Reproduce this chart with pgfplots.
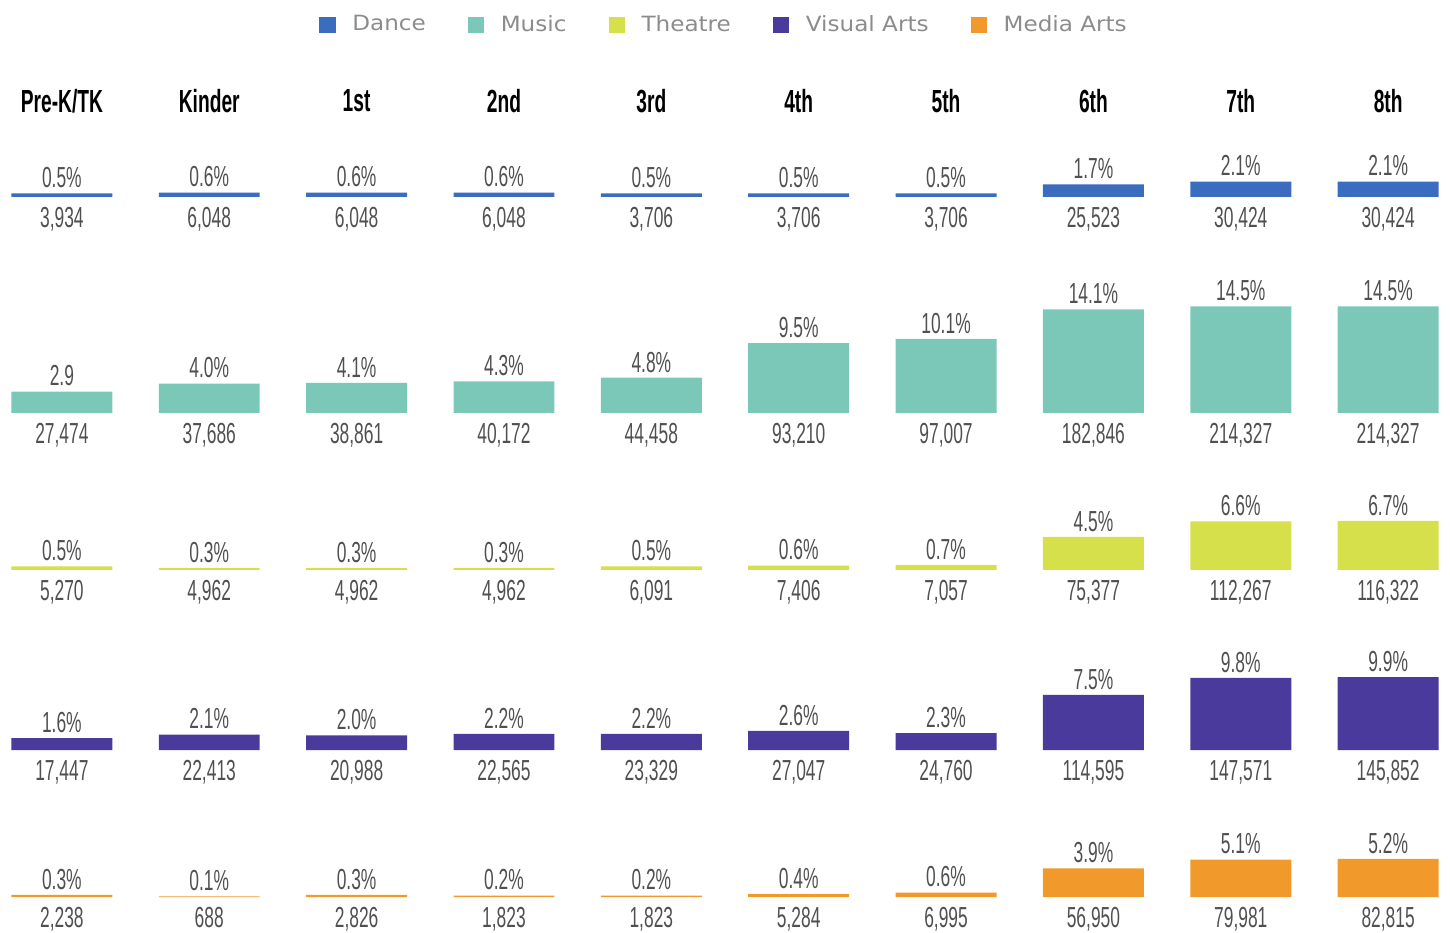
\documentclass[border=0pt]{standalone}
\usepackage{pgfplots}
\pgfplotsset{compat=1.18}
\usepackage{fontspec}
\setmainfont{Liberation Sans}
\newfontfamily\cond[FakeStretch=0.6]{Liberation Sans}
\newfontfamily\condb[FakeStretch=0.6]{Liberation Sans Bold}
\newfontfamily\legfont[FakeStretch=1.1]{DejaVu Sans}
\definecolor{cDance}{HTML}{3A6CC0}
\definecolor{cMusic}{HTML}{7CC8B8}
\definecolor{cTheatre}{HTML}{D6E04A}
\definecolor{cVisual}{HTML}{4A3A9C}
\definecolor{cMedia}{HTML}{F19A2B}
\definecolor{txt}{HTML}{505050}
\definecolor{legtxt}{HTML}{8C8C8C}
\pgfplotsset{
  rowaxis/.style={
    width=725pt, height=58.8pt, scale only axis,
    xmin=-0.42, xmax=9.42, ymin=0, ymax=16,
    axis line style={draw=none},
    ymajorticks=false,
    xtick={0,...,9},
    major tick length=0pt,
    xticklabel style={font=\cond\fontsize{14.5}{16}\selectfont, text=txt, anchor=north, inner sep=0pt, yshift=-5pt},
    ybar, bar width=0.685, bar shift=0pt,
    clip=false,
    nodes near coords,
    point meta=explicit symbolic,
    every node near coord/.append style={font=\cond\fontsize{14.5}{16}\selectfont, text=txt, anchor=south, inner sep=0pt, yshift=2.5pt},
    anchor=south west,
  },
  legsq/.style={legend image code/.code={\fill[#1] (0pt,-3.8pt) rectangle (7.6pt,3.8pt);}},
}
\begin{document}
\begin{tikzpicture}
\useasboundingbox (0,0) rectangle (725pt,466pt);
% Dance
\begin{axis}[rowaxis, at={(0pt,367.5pt)},
  xticklabels={{3,934},{6,048},{6,048},{6,048},{3,706},{3,706},{3,706},{25,523},{30,424},{30,424}},
  legend columns=5,
  legend style={at={(0.5,1)}, anchor=center, yshift=27.3pt, draw=none, fill=none,
    font=\legfont\fontsize{10.5}{12}\selectfont, text=legtxt,
    /tikz/every even column/.append style={column sep=19pt},
    /tikz/every odd column/.append style={column sep=6.5pt}},
  legend cell align=left,
]
\addplot[fill=cDance, draw=none, forget plot] coordinates {(0,0.5)[0.5\%] (1,0.6)[0.6\%] (2,0.6)[0.6\%] (3,0.6)[0.6\%] (4,0.5)[0.5\%] (5,0.5)[0.5\%] (6,0.5)[0.5\%] (7,1.7)[1.7\%] (8,2.1)[2.1\%] (9,2.1)[2.1\%]};
\addlegendimage{legsq=cDance}
\addlegendentry{Dance}
\addlegendimage{legsq=cMusic}
\addlegendentry{Music}
\addlegendimage{legsq=cTheatre}
\addlegendentry{Theatre}
\addlegendimage{legsq=cVisual}
\addlegendentry{Visual Arts}
\addlegendimage{legsq=cMedia}
\addlegendentry{Media Arts}
\begin{scope}[every node/.style={font=\condb\fontsize{16}{18}\selectfont, text=black}]
\node at (axis cs:0,13.06) {Pre-K/TK};
\node at (axis cs:1,13.06) {Kinder};
\node at (axis cs:2,13.06) {1st};
\node at (axis cs:3,13.06) {2nd};
\node at (axis cs:4,13.06) {3rd};
\node at (axis cs:5,13.06) {4th};
\node at (axis cs:6,13.06) {5th};
\node at (axis cs:7,13.06) {6th};
\node at (axis cs:8,13.06) {7th};
\node at (axis cs:9,13.06) {8th};
\end{scope}
\end{axis}
% Music
\begin{axis}[rowaxis, at={(0pt,259.5pt)},
  xticklabels={{27,474},{37,686},{38,861},{40,172},{44,458},{93,210},{97,007},{182,846},{214,327},{214,327}}]
\addplot[fill=cMusic, draw=none] coordinates {(0,2.9)[2.9] (1,4.0)[4.0\%] (2,4.1)[4.1\%] (3,4.3)[4.3\%] (4,4.8)[4.8\%] (5,9.5)[9.5\%] (6,10.1)[10.1\%] (7,14.1)[14.1\%] (8,14.5)[14.5\%] (9,14.5)[14.5\%]};
\end{axis}
% Theatre
\begin{axis}[rowaxis, at={(0pt,181pt)},
  xticklabels={{5,270},{4,962},{4,962},{4,962},{6,091},{7,406},{7,057},{75,377},{112,267},{116,322}}]
\addplot[fill=cTheatre, draw=none] coordinates {(0,0.5)[0.5\%] (1,0.3)[0.3\%] (2,0.3)[0.3\%] (3,0.3)[0.3\%] (4,0.5)[0.5\%] (5,0.6)[0.6\%] (6,0.7)[0.7\%] (7,4.5)[4.5\%] (8,6.6)[6.6\%] (9,6.7)[6.7\%]};
\end{axis}
% Visual Arts
\begin{axis}[rowaxis, at={(0pt,91pt)},
  xticklabels={{17,447},{22,413},{20,988},{22,565},{23,329},{27,047},{24,760},{114,595},{147,571},{145,852}}]
\addplot[fill=cVisual, draw=none] coordinates {(0,1.6)[1.6\%] (1,2.1)[2.1\%] (2,2.0)[2.0\%] (3,2.2)[2.2\%] (4,2.2)[2.2\%] (5,2.6)[2.6\%] (6,2.3)[2.3\%] (7,7.5)[7.5\%] (8,9.8)[9.8\%] (9,9.9)[9.9\%]};
\end{axis}
% Media Arts
\begin{axis}[rowaxis, at={(0pt,17.5pt)},
  xticklabels={{2,238},{688},{2,826},{1,823},{1,823},{5,284},{6,995},{56,950},{79,981},{82,815}}]
\addplot[fill=cMedia, draw=none] coordinates {(0,0.3)[0.3\%] (1,0.1)[0.1\%] (2,0.3)[0.3\%] (3,0.2)[0.2\%] (4,0.2)[0.2\%] (5,0.4)[0.4\%] (6,0.6)[0.6\%] (7,3.9)[3.9\%] (8,5.1)[5.1\%] (9,5.2)[5.2\%]};
\end{axis}
\end{tikzpicture}
\end{document}
